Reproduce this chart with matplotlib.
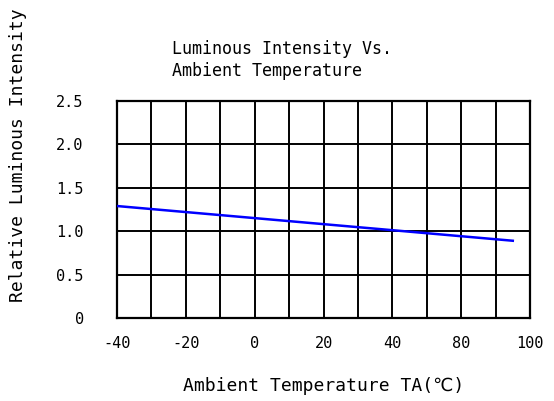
import matplotlib
matplotlib.use("Agg")
import matplotlib.pyplot as plt

# data (x in axis units, ticks relabelled as printed)
temperature = [-40, 75]
rel_intensity = [1.29, 0.89]

x_ticks = [-40, -20, 0, 20, 40, 60, 80]
x_tick_labels = ["-40", "-20", "0", "20", "40", "80", "100"]
y_ticks = [0, 0.5, 1.0, 1.5, 2.0, 2.5]
y_tick_labels = ["0", "0.5", "1.0", "1.5", "2.0", "2.5"]

plt.rcParams["font.family"] = ["DejaVu Sans Mono", "DejaVu Sans"]

fig = plt.figure(figsize=(5.54, 4.01), dpi=100)
ax = fig.add_axes([117 / 554, 1 - 318 / 401, 413 / 554, 217 / 401])

ax.plot(temperature, rel_intensity, color="#0000ff", linewidth=1.8, zorder=3)

ax.set_xlim(-40, 80)
ax.set_ylim(0, 2.5)
ax.set_yticks(y_ticks)
ax.set_xticks(x_ticks)
ax.set_xticks(range(-40, 81, 10), minor=True)
ax.grid(True, color="black", linewidth=1.4)
ax.grid(True, which="minor", axis="x", color="black", linewidth=1.4)
ax.set_xticklabels(x_tick_labels, fontsize=11)
ax.set_yticklabels(y_tick_labels, fontsize=11)
ax.tick_params(which="both", length=0)
ax.tick_params(axis="x", pad=13)
ax.tick_params(axis="y", pad=24)
for s in ax.spines.values():
    s.set_linewidth(1.6)

ax.set_xlabel("Ambient Temperature TA(℃)", fontsize=13, labelpad=19)
fig.text(18 / 554, 1 - 155 / 401, "Relative Luminous Intensity", rotation=90,
         ha="center", va="center", fontsize=13)
fig.text(172 / 554, 1 - 60 / 401, "Luminous Intensity Vs.\nAmbient Temperature",
         ha="left", va="center", fontsize=12, linespacing=1.3)

fig.savefig("out.png", dpi=100)
